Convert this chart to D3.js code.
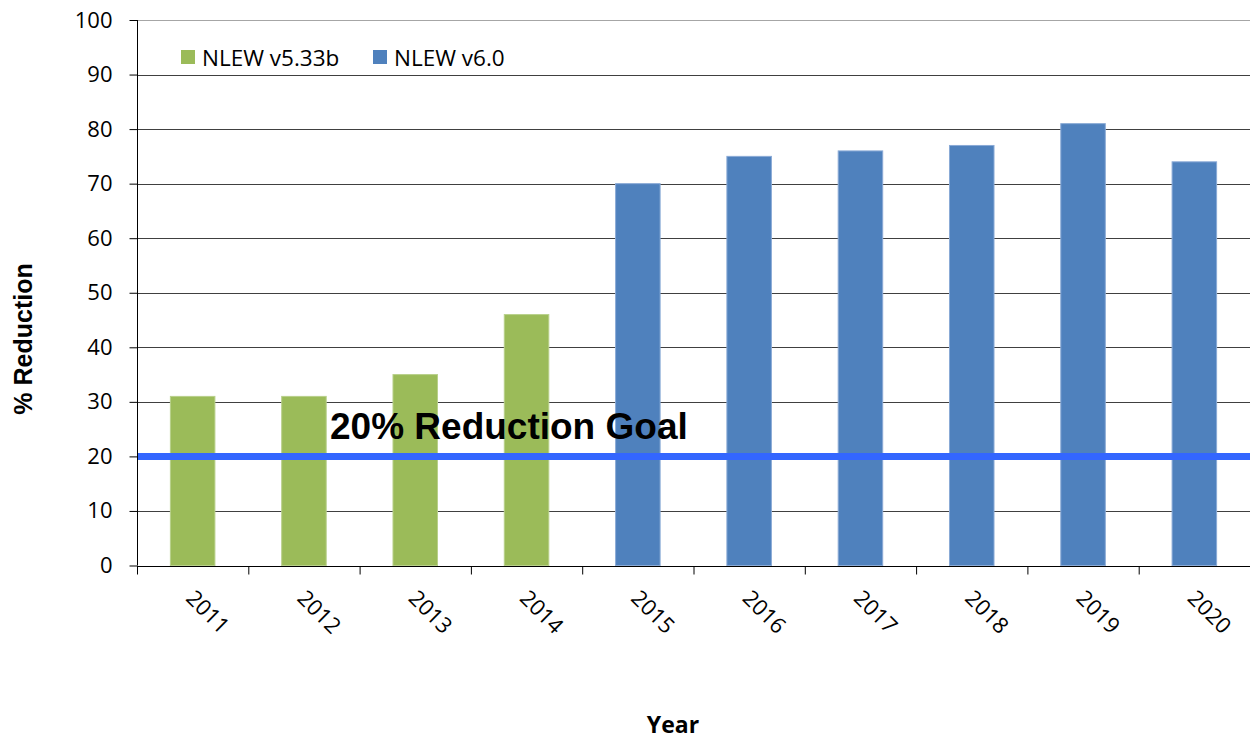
<!DOCTYPE html>
<html><head><meta charset="utf-8">
<script src="https://cdn.jsdelivr.net/npm/d3@7"></script>
<style>body{margin:0;background:#fff}</style>
</head><body>
<svg id="c" width="1250" height="740"></svg>
<script>
const years = ["2011","2012","2013","2014","2015","2016","2017","2018","2019","2020"];
const versions = ["NLEW v5.33b","NLEW v5.33b","NLEW v5.33b","NLEW v5.33b","NLEW v6.0","NLEW v6.0","NLEW v6.0","NLEW v6.0","NLEW v6.0","NLEW v6.0"];
const reduction = [31,31,35,46,70,75,76,77,81,74];
const yTicks = [0,10,20,30,40,50,60,70,80,90,100];
const legendItems = ["NLEW v5.33b","NLEW v6.0"];
const goalValue = 20;
const goalLabel = "20% Reduction Goal";

const colors = {"NLEW v5.33b":"#9BBB59","NLEW v6.0":"#4F81BD"};
const strokes = {"NLEW v5.33b":"#b8d08a","NLEW v6.0":"#8aaad6"};
const svg = d3.select("#c");
const L=137, R=1250, T=20, B=565.5;
const x = d3.scaleBand().domain(years).range([L,R]).paddingInner(0.6).paddingOuter(0.3);
const xb = d3.scaleBand().domain(years).range([L,R]);
const y = d3.scaleLinear().domain([0,100]).range([B,T]);
const font = "'Open Sans', sans-serif";

// gridlines
svg.append("g").selectAll("line").data(yTicks.filter(d=>d>0)).join("line")
  .attr("x1",L).attr("x2",R).attr("y1",d=>Math.round(y(d))+0.5).attr("y2",d=>Math.round(y(d))+0.5)
  .attr("stroke",d=>d===100?"#a6a6a6":"#404040").attr("stroke-width",1);

// bars
svg.append("g").selectAll("rect").data(years).join("rect")
  .attr("x",(d)=>x(d)).attr("width",x.bandwidth())
  .attr("y",(d,i)=>y(reduction[i])).attr("height",(d,i)=>B-y(reduction[i]))
  .attr("fill",(d,i)=>colors[versions[i]])
  .attr("stroke",(d,i)=>strokes[versions[i]]).attr("stroke-width",1);

// goal line
svg.append("line").attr("x1",L).attr("x2",R).attr("y1",y(goalValue)).attr("y2",y(goalValue))
  .attr("stroke","#3366FF").attr("stroke-width",7);
svg.append("text").attr("x",330).attr("y",439).text(goalLabel)
  .attr("font-family","'Liberation Sans', Arial, sans-serif").attr("font-weight","bold")
  .attr("font-size",37).attr("fill","#000");

// y axis
const yAxis = d3.axisLeft(y).tickValues(yTicks).tickSize(8).tickPadding(17);
const gy = svg.append("g").attr("transform",`translate(${L+0.5},0)`).call(yAxis);
gy.select(".domain").attr("stroke","#000").attr("d",`M0,${T}V${B}`);
gy.selectAll(".tick line").attr("stroke","#000");
gy.selectAll(".tick text").attr("font-family",font).attr("font-size",22).attr("fill","#000");

// x axis
const gx = svg.append("g").attr("transform",`translate(0,${Math.round(B)+0.5})`);
gx.append("line").attr("x1",L).attr("x2",R).attr("stroke","#000");
gx.selectAll("line.tk").data(years.concat(["end"])).join("line").attr("class","tk")
  .attr("x1",(d,i)=>L+i*xb.bandwidth()+0.5).attr("x2",(d,i)=>L+i*xb.bandwidth()+0.5)
  .attr("y1",0).attr("y2",8).attr("stroke","#000");
gx.selectAll("text").data(years).join("text")
  .attr("transform",d=>`translate(${xb(d)+xb.bandwidth()/2-8},${33}) rotate(45)`)
  .attr("font-family",font).attr("font-size",22).attr("fill","#000").text(d=>d);

// legend
const lg = svg.append("g");
const lx = [181, 373];
legendItems.forEach((k,i)=>{
  lg.append("rect").attr("x",lx[i]).attr("y",50).attr("width",14).attr("height",14).attr("fill",colors[k]);
  lg.append("text").attr("x",lx[i]+21).attr("y",66).text(k)
    .attr("font-family",font).attr("font-size",22.5).attr("fill","#000");
});

// axis titles
svg.append("text").attr("transform","translate(32,339) rotate(-90)").attr("text-anchor","middle")
  .attr("font-family","'Liberation Sans', Arial, sans-serif").attr("font-weight","bold").attr("font-size",25).text("% Reduction");
svg.append("text").attr("x",673).attr("y",733).attr("text-anchor","middle")
  .attr("font-family","'Open Sans', sans-serif").attr("font-weight","bold").attr("font-size",23).text("Year");
</script>
</body></html>
